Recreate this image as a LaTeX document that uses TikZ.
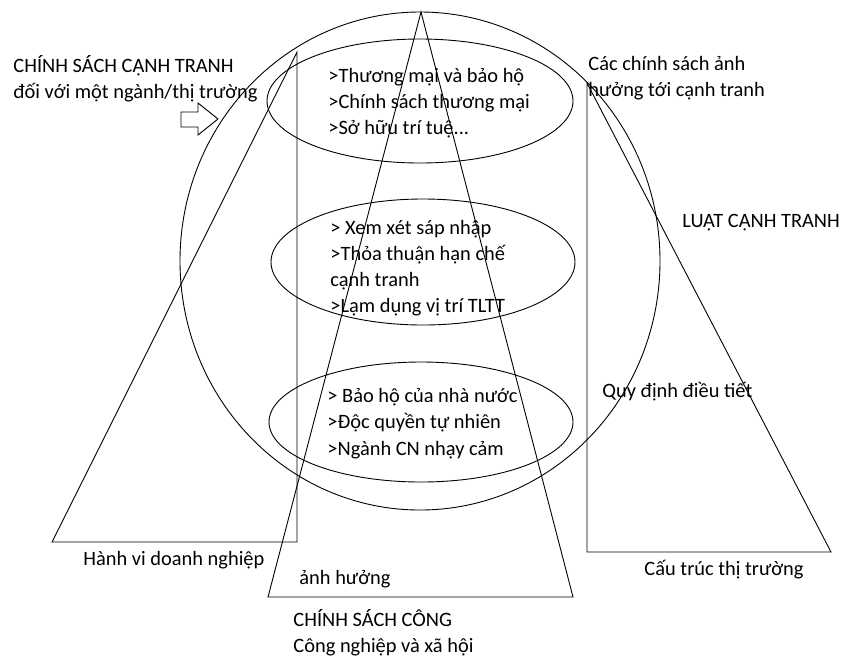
\documentclass[tikz,border=0pt]{standalone}
\usepackage{fontspec}
\setmainfont{Carlito}

\begin{document}
\begin{tikzpicture}[
        x=1pt, y=-1pt,
        line width=0.9pt,
        every node/.style={anchor=west, inner sep=0pt, align=left,
            font=\fontsize{20.4}{26.2}\selectfont},
    ]
    \useasboundingbox (0,0) rectangle (843,657);

    % big circle and the three lists
    \draw (420,261) ellipse [x radius=240, y radius=249];
    \draw (420,101) ellipse [x radius=153, y radius=62];
    \draw (423,262) ellipse [x radius=152, y radius=63];
    \draw (421,422) ellipse [x radius=152, y radius=60];

    % triangles
    \coordinate (hv top) at (297,52);
    \coordinate (hv left) at (52,542);
    \coordinate (hv right) at (297,542);
    \draw (hv top) -- (hv right) -- (hv left) -- cycle;

    \coordinate (cs top) at (421,12);
    \coordinate (cs left) at (268,597);
    \coordinate (cs right) at (573,597);
    \draw (cs top) -- (cs right) -- (cs left) -- cycle;

    \coordinate (ct top) at (587,83);
    \coordinate (ct left) at (587,552);
    \coordinate (ct right) at (831,552);
    \draw (ct top) -- (ct left) -- (ct right) -- cycle;

    % arrow
    \draw (181,112) -- (198,112) -- (198,103) -- (218,119) -- (198,135)
        -- (198,127) -- (181,127) -- cycle;

    % texts
    \node (cscanh) at (13,79) {CHÍNH SÁCH CẠNH TRANH\\đối với một ngành/thị trường};
    \node (thuongmai) at (328,103) {>Thương mại và bảo hộ\\>Chính sách thương mại\\>Sở hữu trí tuệ...};
    \node (xemxet) at (330,268) {> Xem xét sáp nhập\\>Thỏa thuận hạn chế\\cạnh tranh\\>Lạm dụng vị trí TLTT};
    \node (baoho) at (327,423.5) {> Bảo hộ của nhà nước\\>Độc quyền tự nhiên\\>Ngành CN nhạy cảm};
    \node (cacchinhsach) at (588,78) {Các chính sách ảnh\\hưởng tới cạnh tranh};
    \node (luat) at (682,223) {LUẬT CẠNH TRANH};
    \node (quydinh) at (602,392) {Quy định điều tiết};
    \node (cautruc) at (644,570) {Cấu trúc thị trường};
    \node (hanhvi) at (83,560) {Hành vi doanh nghiệp};
    \node (anhhuong) at (299,579) {ảnh hưởng};
    \node (cscong) at (293,632.5) {CHÍNH SÁCH CÔNG\\Công nghiệp và xã hội};
\end{tikzpicture}
\end{document}
